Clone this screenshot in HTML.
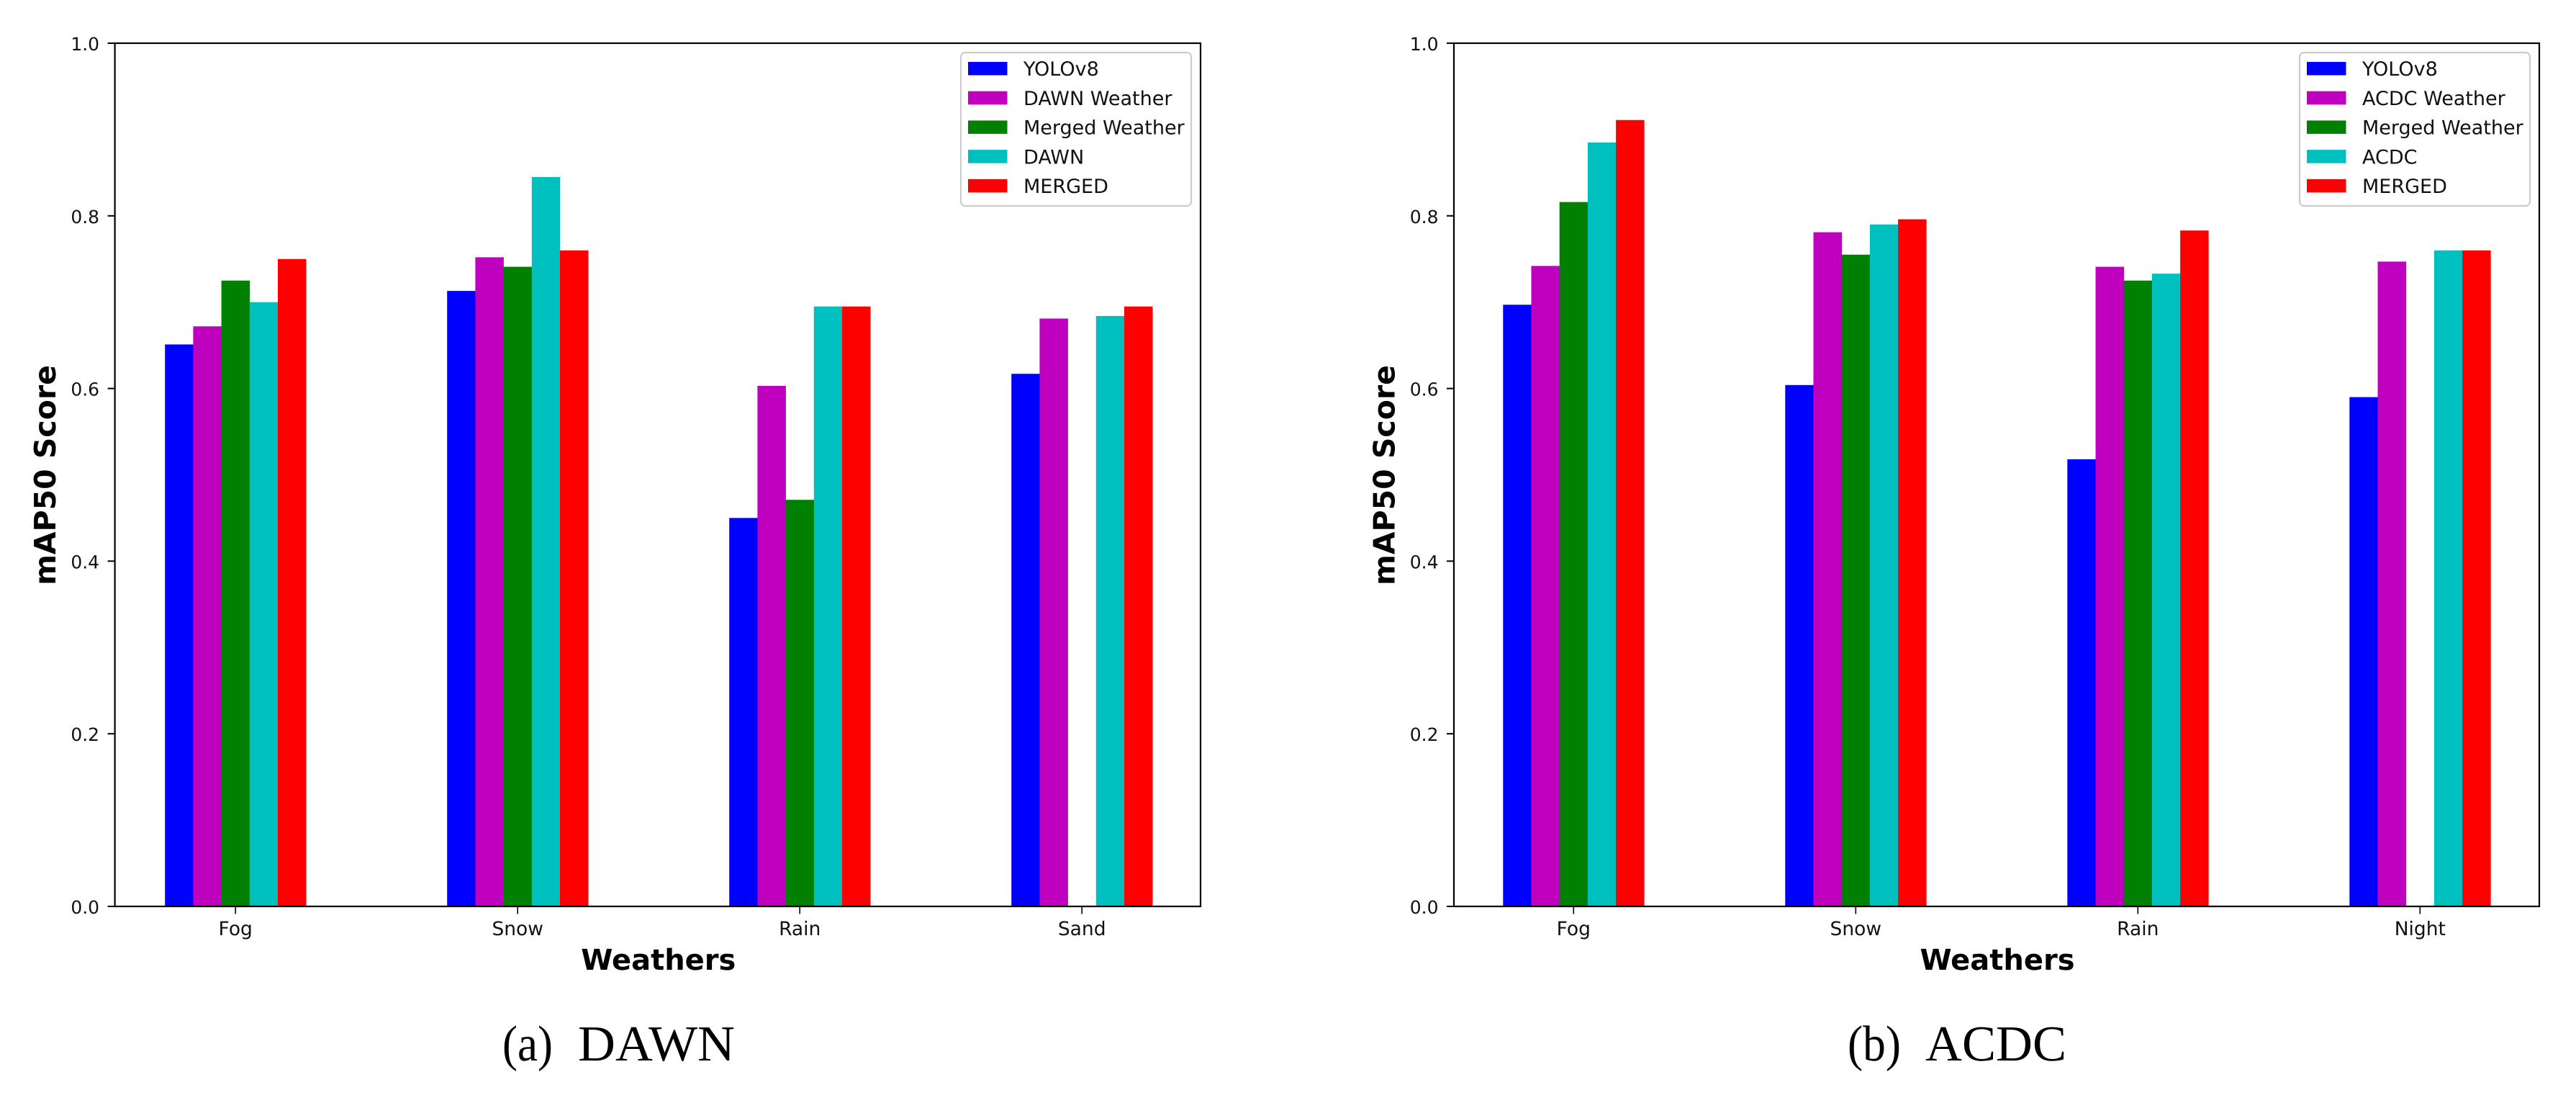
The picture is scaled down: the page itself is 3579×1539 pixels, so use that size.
<!DOCTYPE html>
<html lang="en">
<head>
<meta charset="utf-8">
<title>mAP50 by weather: DAWN and ACDC</title>
<style>
  html, body { margin: 0; padding: 0; background: #fff; }
  body { width: 3579px; height: 1539px; overflow: hidden; }
  svg { display: block; }
  text { font-family: "DejaVu Sans", "Liberation Sans", sans-serif; fill: #111; text-rendering: geometricPrecision; }
  .caption { font-family: "Liberation Serif", serif; font-size: 70px; fill: #000; }
  .x-title { font-weight: bold; font-size: 40px; fill: #000; }
  .y-title { font-weight: bold; font-size: 41px; fill: #000; }
  .y-tick-label { font-size: 25px; }
  .x-tick-label { font-size: 26.5px; }
  .legend-label { font-size: 27px; }
</style>
</head>
<body>
<svg id="figure" xmlns="http://www.w3.org/2000/svg" width="3579" height="1539" viewBox="0 0 3579 1539">
  <rect width="3579" height="1539" fill="#ffffff"/>
  <text class="caption" x="698" y="1473" textLength="70" lengthAdjust="spacingAndGlyphs">(a)</text>
  <text class="caption" x="803" y="1473" textLength="218" lengthAdjust="spacingAndGlyphs">DAWN</text>
  <text class="caption" x="2567" y="1473" textLength="74" lengthAdjust="spacingAndGlyphs">(b)</text>
  <text class="caption" x="2675" y="1473" textLength="196" lengthAdjust="spacingAndGlyphs">ACDC</text>
</svg>
<script>
// ---- chart data ----
const yTickValues = [0.0, 0.2, 0.4, 0.6, 0.8, 1.0];
const yTickLabels = ["0.0", "0.2", "0.4", "0.6", "0.8", "1.0"];
const seriesColors = ["#0000ff", "#bf00bf", "#008000", "#00bfbf", "#ff0000"];

const dawnCategories = ["Fog", "Snow", "Rain", "Sand"];
const dawnSeriesNames = ["YOLOv8", "DAWN Weather", "Merged Weather", "DAWN", "MERGED"];
const dawnYolo = [0.651, 0.713, 0.450, 0.617];
const dawnWeather = [0.672, 0.752, 0.603, 0.681];
const dawnMergedWeather = [0.725, 0.741, 0.471, 0];
const dawnDawn = [0.700, 0.845, 0.695, 0.684];
const dawnMerged = [0.750, 0.760, 0.695, 0.695];

const acdcCategories = ["Fog", "Snow", "Rain", "Night"];
const acdcSeriesNames = ["YOLOv8", "ACDC Weather", "Merged Weather", "ACDC", "MERGED"];
const acdcYolo = [0.697, 0.604, 0.518, 0.590];
const acdcWeather = [0.742, 0.781, 0.741, 0.747];
const acdcMergedWeather = [0.816, 0.755, 0.725, 0];
const acdcAcdc = [0.885, 0.790, 0.733, 0.760];
const acdcMerged = [0.911, 0.796, 0.783, 0.760];

// ---- layout and drawing ----
const SVG_NS = "http://www.w3.org/2000/svg";
const figure = document.getElementById("figure");
const plotTop = 60;
const plotBottom = 1259;

function yScale(v) {
  return plotBottom - v * (plotBottom - plotTop);
}

function make(parent, tag, attrs, text) {
  const el = document.createElementNS(SVG_NS, tag);
  for (const k in attrs) el.setAttribute(k, attrs[k]);
  if (text !== undefined) el.textContent = text;
  parent.appendChild(el);
  return el;
}

function slug(s) {
  return s.toLowerCase().replace(/[^a-z0-9]+/g, "-");
}

function drawPanel(panel) {
  const xScale = function (i) { return panel.firstCenter + i * panel.step; };
  const barWidth = panel.step * 0.1;

  const g = make(figure, "g", {});
  
  

  // bars
  panel.series.forEach(function (values, s) {
    values.forEach(function (v, i) {
      const top = yScale(v);
      const bar = make(g, "rect", {
        x: xScale(i) + (s - 2.5) * barWidth,
        y: top,
        width: barWidth + 0.3,
        height: plotBottom - top,
        fill: seriesColors[s]
      });
      
      
    });
  });

  // y ticks
  yTickValues.forEach(function (v, i) {
    const y = yScale(v);
    const tick = make(g, "line", { x1: panel.left - 10, x2: panel.left, y1: y, y2: y, stroke: "#000", "stroke-width": 2 });
    
    
    const label = make(g, "text", { class: "y-tick-label", x: panel.left - 21.5, y: y + 10, "text-anchor": "end" }, yTickLabels[i]);
    
    
  });

  // x ticks
  panel.categories.forEach(function (c, i) {
    const x = xScale(i);
    const tick = make(g, "line", { x1: x, x2: x, y1: plotBottom, y2: plotBottom + 10.5, stroke: "#000", "stroke-width": 1.6 });
    
    
    const label = make(g, "text", { class: "x-tick-label", x: x, y: plotBottom + 40, "text-anchor": "middle" }, c);
    
    
  });

  // spines
  const frame = make(g, "rect", {
    x: panel.left, y: plotTop, width: panel.right - panel.left, height: plotBottom - plotTop,
    fill: "none", stroke: "#000", "stroke-width": 2.2
  });
  
  

  // axis titles
  const xTitle = make(g, "text", { class: "x-title", x: (panel.left + panel.right) / 2 + 1, y: 1347, "text-anchor": "middle" }, "Weathers");
  
  
  const yx = panel.left - 82.5;
  const yTitle = make(g, "text", { class: "y-title", x: yx, y: 660, "text-anchor": "middle", transform: "rotate(-90 " + yx + " 660)" }, "mAP50 Score");
  
  

  // legend
  const legend = make(g, "g", {});
  
  
  const lx = panel.right - 333;
  const box = make(legend, "rect", { x: lx, y: 73, width: 320, height: 213, rx: 6, ry: 6, fill: "#fff", "fill-opacity": 0.9, stroke: "#cccccc", "stroke-width": 2.2 });
  
  
  panel.names.forEach(function (name, s) {
    const swatch = make(legend, "rect", { x: lx + 10, y: 86 + s * 40.7, width: 54.5, height: 18.5, fill: seriesColors[s] });
    
    
    const label = make(legend, "text", { class: "legend-label", x: lx + 87, y: 105 + s * 40.8 }, name);
    
    
  });
}

drawPanel({
  id: "dawn", left: 159.6, right: 1668, firstCenter: 327.2, step: 392,
  categories: dawnCategories, names: dawnSeriesNames,
  series: [dawnYolo, dawnWeather, dawnMergedWeather, dawnDawn, dawnMerged]
});
drawPanel({
  id: "acdc", left: 2020, right: 3528, firstCenter: 2186.3, step: 392,
  categories: acdcCategories, names: acdcSeriesNames,
  series: [acdcYolo, acdcWeather, acdcMergedWeather, acdcAcdc, acdcMerged]
});
</script>
</body>
</html>
